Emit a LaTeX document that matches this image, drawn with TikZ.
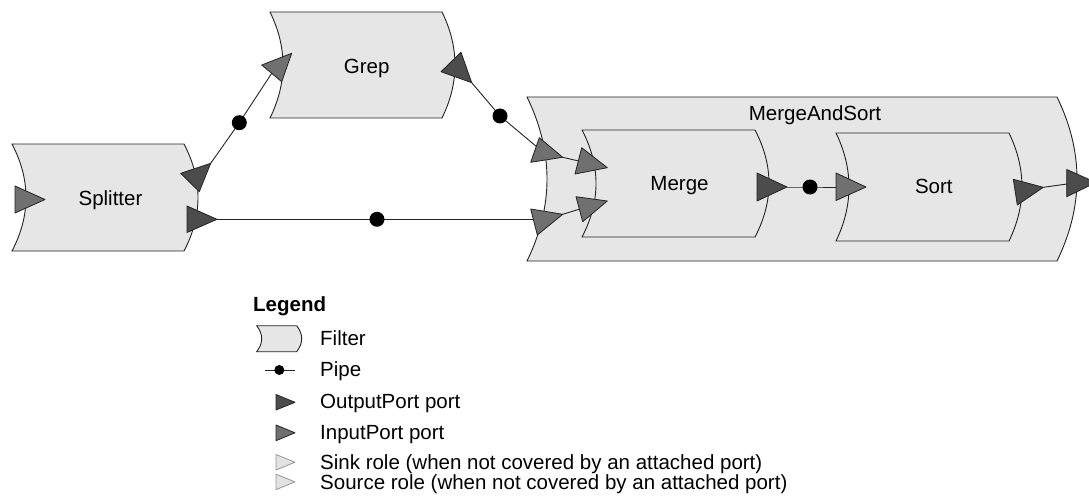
\documentclass[tikz,border=0pt]{standalone}
\usepackage{fontspec}
\setmainfont{Liberation Sans}
\definecolor{fillgray}{RGB}{230,230,230}
\definecolor{outgray}{RGB}{76,76,76}
\definecolor{ingray}{RGB}{112,112,112}
\definecolor{rolegray}{RGB}{226,226,226}
\definecolor{roleline}{RGB}{150,150,150}
\definecolor{edgecol}{RGB}{35,35,35}
\pgfdeclarelayer{back}
\pgfdeclarelayer{mid}
\pgfsetlayers{back,mid,main}
\newcommand{\drawfilter}[6]{%
  \pgfmathsetmacro\fxa{#2+4*#6/3}%
  \pgfmathsetmacro\fxb{#4+4*#6/3}%
  \pgfmathsetmacro\fya{#3+(#5-#3)/3}%
  \pgfmathsetmacro\fyb{#3+2*(#5-#3)/3}%
  \draw[filterbox] (#2,#3) coordinate (#1-nw) -- (#4,#3) coordinate (#1-ne)
    .. controls (\fxb,\fya) and (\fxb,\fyb) .. (#4,#5) coordinate (#1-se)
    -- (#2,#5) coordinate (#1-sw)
    .. controls (\fxa,\fyb) and (\fxa,\fya) .. cycle;%
}
\newcommand{\drawport}[4]{\draw[#1] #2 -- #3 -- #4 -- cycle;}
\begin{document}
\begin{tikzpicture}[x=1pt,y=-1pt,
  font=\fontsize{20.5}{24}\selectfont,
  filterbox/.style={draw=edgecol, fill=fillgray, line width=0.9pt},
  outport/.style={draw=edgecol, fill=outgray, line width=0.8pt, line join=round},
  inport/.style={draw=edgecol, fill=ingray, line width=0.8pt, line join=round},
  roletri/.style={draw=roleline, fill=rolegray, line width=0.8pt, line join=round},
  pipedot/.style={circle, fill=black, inner sep=0pt, minimum size=15pt},
  smalldot/.style={circle, fill=black, inner sep=0pt, minimum size=10pt},
  conn/.style={draw=edgecol, line width=0.9pt},
  txt/.style={inner sep=0pt, anchor=base},
  ltxt/.style={inner sep=0pt, anchor=base west}]
\useasboundingbox (0,0) rectangle (1089,500);
\clip (0,0) rectangle (1089,500);

% ---------- filters ----------
\begin{pgfonlayer}{back}
\drawfilter{mas}{527}{97}{1057}{261}{20}
\drawfilter{spl}{12}{144}{184}{251}{14}
\drawfilter{grep}{270}{12}{442}{118}{13}
\drawfilter{mer}{582}{130}{755}{237}{14}
\drawfilter{sort}{836}{133}{1009}{241}{13}
\node[txt] (splitter) at (110.5,205) {Splitter};
\node[txt] (greplbl) at (366.7,73.3) {Grep};
\node[txt] (mergelbl) at (679.5,190.5) {Merge};
\node[txt] (sortlbl) at (933.8,193.5) {Sort};
\node[txt] (maslbl) at (815,120.7) {MergeAndSort};
\end{pgfonlayer}

% ---------- attachment points ----------
\coordinate (spl-o1) at (210.7,163.3);
\coordinate (spl-o2) at (217,219.3);
\coordinate (grep-i) at (271.7,73.3);
\coordinate (grep-o) at (471.7,82.7);
\coordinate (mas-i1) at (537,147);
\coordinate (mas-i1t) at (562.7,157.3);
\coordinate (mas-i2) at (534,219.3);
\coordinate (mas-i2t) at (562.7,214.3);
\coordinate (mer-i1) at (578.3,160.9);
\coordinate (mer-i2) at (579.3,209.2);
\coordinate (mer-o) at (787,187);
\coordinate (sort-i) at (836,187);
\coordinate (sort-o) at (1043.3,187.3);
\coordinate (mas-o) at (1067,184);

% ---------- pipes ----------
\node[pipedot] (pipe1) at (239.3,122.7) {};
\node[pipedot] (pipe2) at (377,219.3) {};
\node[pipedot] (pipe3) at (500,116) {};
\node[pipedot] (pipe4) at (810,187) {};

% ---------- connectors ----------
\begin{pgfonlayer}{mid}
\draw[conn] (spl-o1) -- (pipe1.center) -- (grep-i);
\draw[conn] (spl-o2) -- (pipe2.center) -- (mas-i2);
\draw[conn] (grep-o) -- (pipe3.center) -- (mas-i1);
\draw[conn] (mas-i1t) -- (mer-i1);
\draw[conn] (mas-i2t) -- (mer-i2);
\draw[conn] (mer-o) -- (pipe4.center) -- (sort-i);
\draw[conn] (sort-o) -- (mas-o);
\end{pgfonlayer}

% ---------- ports ----------
\drawport{inport}{(15,186)}{(15,213)}{(45,199.5)}
\drawport{outport}{(180.7,173.3)}{(210.7,163.3)}{(199.3,191.7)}
\drawport{outport}{(187,206)}{(187,232.5)}{(217,219.3)}
\drawport{inport}{(261.7,65)}{(291.7,53.3)}{(281.7,81.7)}
\drawport{outport}{(441,71.7)}{(461,52.3)}{(471.7,82.7)}
\drawport{inport}{(530.7,162.3)}{(539.3,137.7)}{(562.7,157.3)}
\drawport{inport}{(530.7,209)}{(537.3,235)}{(562.7,214.3)}
\drawport{inport}{(575,174)}{(581.7,147.7)}{(607.3,167.7)}
\drawport{inport}{(576,196.7)}{(582.7,221.7)}{(607.3,201)}
\drawport{outport}{(757,173)}{(757,201)}{(787,187)}
\drawport{inport}{(836,173)}{(836,200.5)}{(866,187)}
\drawport{outport}{(1013.3,179.3)}{(1017.3,205)}{(1043.3,187.3)}
\drawport{outport}{(1066.7,169.5)}{(1066.7,196.7)}{(1096,182.5)}

% ---------- legend ----------
\node[ltxt, font=\fontsize{20.5}{24}\selectfont\bfseries] (legend) at (253,311.7) {Legend};
\drawfilter{lgf}{256.7}{325.7}{296.7}{351.7}{5}
\node[ltxt] (lfilter) at (320,345.7) {Filter};
\coordinate (lp-a) at (265,370);
\coordinate (lp-b) at (295,370);
\draw[conn] (lp-a) -- (lp-b);
\node[smalldot] (lpipe) at (279.3,370) {};
\node[ltxt] (lpipetxt) at (320,376.7) {Pipe};
\drawport{outport}{(276,394.5)}{(276,410)}{(295,402.3)}
\node[ltxt] (lout) at (320,408.3) {OutputPort port};
\drawport{inport}{(276,425)}{(276,440.7)}{(295,432.8)}
\node[ltxt] (lin) at (320,439.3) {InputPort port};
\drawport{roletri}{(276,454.5)}{(276,470)}{(295,462.2)}
\node[ltxt] (lsink) at (320,469) {Sink role (when not covered by an attached port)};
\drawport{roletri}{(276,474.2)}{(276,489.7)}{(295,481.9)}
\node[ltxt] (lsource) at (320,489) {Source role (when not covered by an attached port)};
\end{tikzpicture}
\end{document}
